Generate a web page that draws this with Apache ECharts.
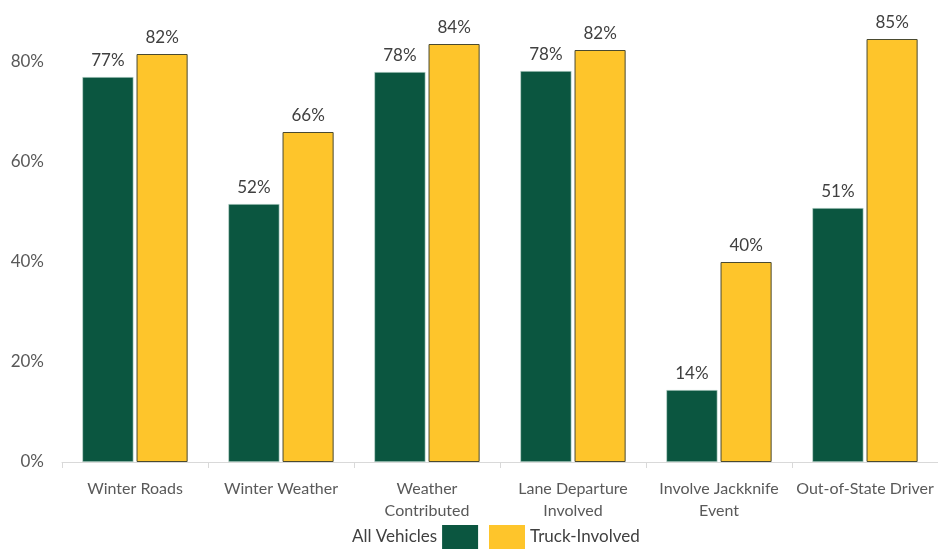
<!DOCTYPE html>
<html><head><meta charset="utf-8">
<script src="https://cdn.jsdelivr.net/npm/echarts@6/dist/echarts.min.js"></script>
<style>html,body{margin:0;padding:0;background:#fff}#c{width:938px;height:549px}</style>
</head><body><div id="c"></div>
<script>
const categories = ['Winter Roads','Winter Weather','Weather\nContributed','Lane Departure\nInvolved','Involve Jackknife\nEvent','Out-of-State Driver'];
const allVehicles = [77, 51.6, 78, 78.2, 14.4, 50.8];
const truckInvolved = [81.6, 66, 83.6, 82.4, 40, 84.6];
const seriesNames = ['All Vehicles','Truck-Involved'];

const font = 'Lato, "Open Sans", sans-serif';
const chart = echarts.init(document.getElementById('c'));
const lbl = {show:true, position:'top', distance:8, color:'#404040', fontSize:17, fontFamily:font,
  formatter: p => Math.round(p.value) + '%'};
const legText = {fontSize:17, color:'#404040', fontFamily:font};
chart.setOption({
  animation:false,
  grid:{left:62, right:0, top:12, bottom:87},
  legend:[
    {data:[seriesNames[0]], left:352, top:525, align:'right', icon:'rect', itemWidth:36, itemHeight:24, padding:0,
     itemStyle:{borderWidth:0}, textStyle:legText},
    {data:[seriesNames[1]], left:489, top:525, align:'left', icon:'rect', itemWidth:36, itemHeight:24, padding:0,
     itemStyle:{borderWidth:0}, textStyle:legText}
  ],
  xAxis:{type:'category', data:categories,
    axisLine:{lineStyle:{color:'#d9d9d9', width:1}},
    axisTick:{show:true, length:6, lineStyle:{color:'#d9d9d9'}},
    axisLabel:{color:'#595959', fontSize:16, fontFamily:font, margin:16, lineHeight:22, interval:0}},
  yAxis:{type:'value', min:0, max:90, interval:20,
    splitLine:{show:false}, axisLine:{show:false}, axisTick:{show:false},
    axisLabel:{color:'#595959', fontSize:17, fontFamily:font, margin:18, formatter:'{value}%', showMaxLabel:false}},
  series:[
    {name:seriesNames[0], type:'bar', data:allVehicles, barWidth:'35%', barGap:'6%',
     itemStyle:{color:'#0b5640', borderColor:'#cfe3da', borderWidth:0.6}, label:lbl},
    {name:seriesNames[1], type:'bar', data:truckInvolved, barWidth:'35%',
     itemStyle:{color:'#fec52b', borderColor:'#4a4a30', borderWidth:1}, label:lbl}
  ]
});
</script></body></html>
